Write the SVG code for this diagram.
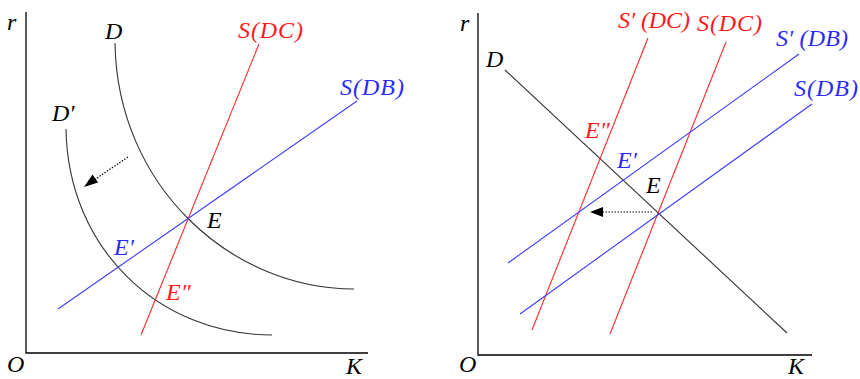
<svg xmlns="http://www.w3.org/2000/svg" width="860" height="379" viewBox="0 0 860 379">
<defs>
<style>
text{font-family:"Liberation Serif","Times New Roman",serif;font-style:italic;font-size:24px;}
.k{fill:#000}
.r{fill:#ff1a1a}
.b{fill:#2a2aff}
.axis{stroke:#000;stroke-width:1.3;fill:none}
.dem{stroke:#333;stroke-width:1.1;fill:none}
.red{stroke:#ff2a2a;stroke-width:1.1;fill:none}
.blue{stroke:#3a3aff;stroke-width:1.1;fill:none}
.dot{stroke:#000;stroke-width:1.2;stroke-dasharray:1.5,1.5;fill:none}
</style>
</defs>
<rect width="860" height="379" fill="#fff"/>

<g id="left-axes">
<path class="axis" d="M26,12 V353 H368"/>
<text class="k" x="7" y="30">r</text>
<text class="k" x="7" y="372">O</text>
<text class="k" x="346" y="374">K</text>
</g>

<g id="left-D">
<path class="dem" d="M115,43 C117,185 230,289 354,289"/>
<text class="k" x="105" y="39">D</text>
</g>
<g id="left-Dprime">
<path class="dem" d="M66,129 C68,250 160,335 272,335"/>
<text class="k" x="52" y="121">D′</text>
</g>
<g id="left-SDC">
<path class="red" d="M259,44 L141,335"/>
<text class="r" x="238" y="38" textLength="65">S(DC)</text>
</g>
<g id="left-SDB">
<path class="blue" d="M357,101 L58,309"/>
<text class="b" x="340" y="95" textLength="64">S(DB)</text>
</g>
<g id="left-E"><text class="k" x="207" y="228">E</text></g>
<g id="left-Eprime"><text class="b" x="114" y="255">E′</text></g>
<g id="left-Edprime"><text class="r" x="166" y="300">E″</text></g>

<g id="right-axes">
<path class="axis" d="M478,13 V355 H812"/>
<text class="k" x="460" y="31">r</text>
<text class="k" x="459" y="372">O</text>
<text class="k" x="788" y="374">K</text>
</g>
<g id="right-D">
<path class="dem" d="M505,70 L787,333"/>
<text class="k" x="486" y="67">D</text>
</g>
<g id="right-SpDC">
<path class="red" d="M648,38 L532,330"/>
<text class="r" x="618" y="28" textLength="72">S′ (DC)</text>
</g>
<g id="right-SDC">
<path class="red" d="M726,42 L610,334"/>
<text class="r" x="697" y="31" textLength="65">S(DC)</text>
</g>
<g id="right-SpDB">
<path class="blue" d="M799,54 L508,263"/>
<text class="b" x="776" y="46" textLength="72">S′ (DB)</text>
</g>
<g id="right-SDB">
<path class="blue" d="M812,104 L520,314"/>
<text class="b" x="794" y="96" textLength="64">S(DB)</text>
</g>
<g id="right-E"><text class="k" x="646" y="193">E</text></g>
<g id="right-Eprime"><text class="b" x="617" y="168">E′</text></g>
<g id="right-Edprime"><text class="r" x="585" y="138">E″</text></g>

<g id="connectors">
<path class="dot" d="M128,157 L94,180"/>
<polygon points="84,187 92.5,174.5 98,182.6" fill="#000"/>
<path class="dot" d="M652,212 L602,212"/>
<polygon points="590,212 603,207 603,217" fill="#000"/>
</g>
</svg>
